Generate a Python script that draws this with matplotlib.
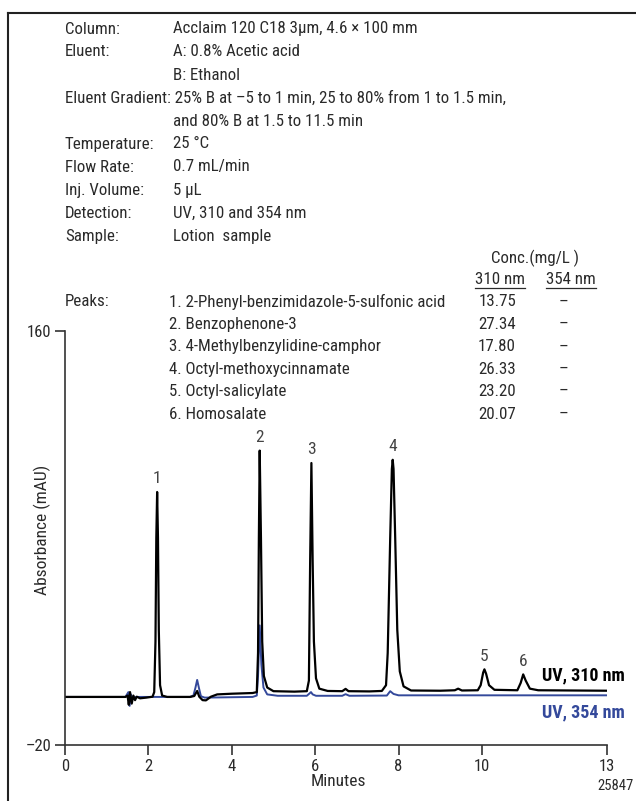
import matplotlib.pyplot as plt
from matplotlib.lines import Line2D

# ---- chromatogram traces (minutes, mAU) ----
uv310_t = [0.0, 1.0, 1.45, 1.50, 1.53, 1.56, 1.60, 1.64, 1.68, 1.72, 1.80, 1.95,
           2.10, 2.14, 2.17, 2.19, 2.21, 2.23, 2.25, 2.28, 2.33, 2.45,
           3.00, 3.10, 3.17, 3.22, 3.30, 3.38, 3.50, 3.65, 4.00, 4.50,
           4.60, 4.63, 4.65, 4.67, 4.70, 4.73, 4.77, 4.85, 5.00, 5.50,
           5.80, 5.85, 5.88, 5.91, 5.94, 5.97, 6.02, 6.10, 6.30, 6.65, 6.73, 6.80,
           7.30, 7.60, 7.70, 7.74, 7.80, 7.84, 7.86, 7.88, 7.92, 7.97, 8.03, 8.12, 8.30,
           9.00, 9.35, 9.43, 9.52, 9.90, 9.97, 10.03, 10.06, 10.10, 10.17, 10.30,
           10.85, 10.93, 10.99, 11.05, 11.15, 11.35, 13.0]
uv310_v = [0.9, 0.9, 0.9, 1.5, -2.5, 3.0, -2.0, 1.5, -0.5, 1.0, 0.3, 0.6,
           1.0, 3.0, 25.0, 70.0, 90.0, 70.0, 30.0, 6.0, 1.5, 0.9,
           0.9, 1.3, 3.5, 1.0, -0.5, -0.6, 1.0, 2.0, 2.3, 2.6,
           3.0, 20.0, 70.0, 108.0, 70.0, 25.0, 10.0, 5.0, 3.4, 3.2,
           3.4, 8.0, 60.0, 102.6, 60.0, 25.0, 9.0, 4.5, 3.5, 3.4, 4.4, 3.4,
           3.3, 3.5, 6.0, 20.0, 70.0, 100.0, 104.0, 100.0, 70.0, 30.0, 12.0, 5.5, 3.7,
           3.6, 3.8, 4.5, 3.7, 3.8, 6.0, 11.5, 12.9, 11.0, 6.0, 4.0,
           3.8, 7.0, 10.7, 8.0, 4.5, 3.8, 3.6]

uv354_t = [0.0, 1.45, 1.52, 1.55, 1.58, 1.62, 1.70, 3.00, 3.08, 3.13, 3.17,
           3.21, 3.26, 3.35, 4.50, 4.60, 4.63, 4.67, 4.71, 4.76, 4.85, 5.10,
           5.80, 5.87, 5.90, 5.94, 6.02, 6.65, 6.73, 6.82, 7.72, 7.80, 7.88,
           8.00, 13.0]
uv354_v = [0.9, 0.9, 3.0, -3.0, 2.0, 0.0, 0.9, 0.9, 1.5, 5.0, 8.3,
           5.0, 1.2, 0.6, 0.9, 1.5, 10.0, 32.0, 15.0, 5.0, 2.0, 1.4,
           1.4, 2.5, 3.0, 2.0, 1.4, 1.4, 2.1, 1.4, 1.5, 3.4, 2.2,
           1.6, 1.6]

# ---- peak labels ----
peak_ids = ["1", "2", "3", "4", "5", "6"]
peak_times = [2.21, 4.67, 5.91, 7.86, 10.06, 10.99]
peak_heights = [90.0, 108.0, 102.6, 104.0, 12.9, 10.7]

# ---- method / peak table text ----
cond_labels = ["Column:", "Eluent:", "", "", "", "Temperature:",
               "Flow Rate:", "Inj. Volume:", "Detection:", "Sample:"]
cond_values = ["Acclaim 120 C18 3µm, 4.6 × 100 mm", "A: 0.8% Acetic acid",
               "B: Ethanol", "",
               "and 80% B at 1.5 to 11.5 min", "25 °C", "0.7 mL/min", "5 µL",
               "UV, 310 and 354 nm", "Lotion  sample"]
gradient_line = "Eluent Gradient: 25% B at \u20135 to 1 min, 25 to 80% from 1 to 1.5 min,"
peak_names = ["1. 2-Phenyl-benzimidazole-5-sulfonic acid", "2. Benzophenone-3",
              "3. 4-Methylbenzylidine-camphor", "4. Octyl-methoxycinnamate",
              "5. Octyl-salicylate", "6. Homosalate"]
conc_310 = ["13.75", "27.34", "17.80", "26.33", "23.20", "20.07"]
conc_354 = ["\u2013"] * 6

BLUE = "#34499b"
TXT = "#2a2a2a"
W, H = 636, 801

plt.rcParams['font.family'] = ['Roboto Condensed', 'Archivo Narrow', 'Liberation Sans', 'DejaVu Sans']
plt.rcParams['axes.unicode_minus'] = False

fig = plt.figure(figsize=(W / 100, H / 100), dpi=100)


def ftext(x, y, s, **kw):
    # place text using reference pixel coordinates (y from top)
    kw.setdefault("color", TXT)
    kw.setdefault("va", "center")
    return fig.text(x / W, 1 - y / H, s, **kw)


# frame (left and top edges only are visible)
fig.add_artist(Line2D([8 / W, 8 / W], [0, 1 - 13 / H], color="#222", lw=1.5))
fig.add_artist(Line2D([8 / W, 1], [1 - 13 / H, 1 - 13 / H], color="#222", lw=1.5))

# method conditions
fs = 12.2
y0, dy = 29, 23.0
for i, (lab, val) in enumerate(zip(cond_labels, cond_values)):
    y = y0 + i * dy
    if lab:
        ftext(65, y, lab, fontsize=fs)
    if val:
        ftext(173, y, val, fontsize=fs)
ftext(65, y0 + 3 * dy, gradient_line, fontsize=fs)

# peak table
ftext(535, 258, "Conc.(mg/L )", fontsize=fs, ha="center")
h310 = ftext(500, 280, "310 nm", fontsize=fs, ha="center")
h354 = ftext(571, 280, "354 nm", fontsize=fs, ha="center")
ftext(65, 302, "Peaks:", fontsize=fs)
for i, (nm, c1, c2) in enumerate(zip(peak_names, conc_310, conc_354)):
    y = 302 + i * 22.4
    ftext(169, y, nm, fontsize=fs)
    ftext(497, y, c1, fontsize=fs, ha="center")
    ftext(563, y, c2, fontsize=fs, ha="center")

fig.canvas.draw()
for t in (h310, h354):
    bb = t.get_window_extent().transformed(fig.transFigure.inverted())
    fig.add_artist(Line2D([bb.x0, bb.x1], [bb.y0 - 0.5 / H, bb.y0 - 0.5 / H],
                          color=TXT, lw=0.9))

# chromatogram axes
ax = fig.add_axes([65 / W, 1 - 745 / H, 542 / W, 414 / H])
ax.plot(uv354_t, uv354_v, color=BLUE, lw=1.4)
ax.plot(uv310_t, uv310_v, color="black", lw=1.6)
ax.set_xlim(0, 13)
ax.set_ylim(-20, 160)
for s in ("top", "right"):
    ax.spines[s].set_visible(False)
for s in ("left", "bottom"):
    ax.spines[s].set_color("#333")
    ax.spines[s].set_linewidth(1.2)
ax.set_xticks([0, 2, 4, 6, 8, 10, 13])
ax.set_yticks([-20, 160])
ax.set_yticklabels(["\u201320", "160"])
ax.tick_params(length=7, width=1.2, color="#333", labelsize=12,
               labelcolor=TXT, pad=3)

for pid, pt, ph in zip(peak_ids, peak_times, peak_heights):
    ax.annotate(pid, (pt, ph), xytext=(0, 4), textcoords="offset points",
                ha="center", va="bottom", fontsize=12.5, color="#444")

ftext(625, 675, "UV, 310 nm", fontsize=13, fontweight="bold", ha="right", color="black")
ftext(625, 712, "UV, 354 nm", fontsize=13, fontweight="bold", ha="right", color=BLUE)
ftext(338, 781, "Minutes", fontsize=12.5, ha="center")
ftext(42, 530, "Absorbance (mAU)", fontsize=12.5, ha="center", rotation=90)
ftext(634, 786, "25847", fontsize=10.5, ha="right")

fig.savefig("out.png", dpi=100)
